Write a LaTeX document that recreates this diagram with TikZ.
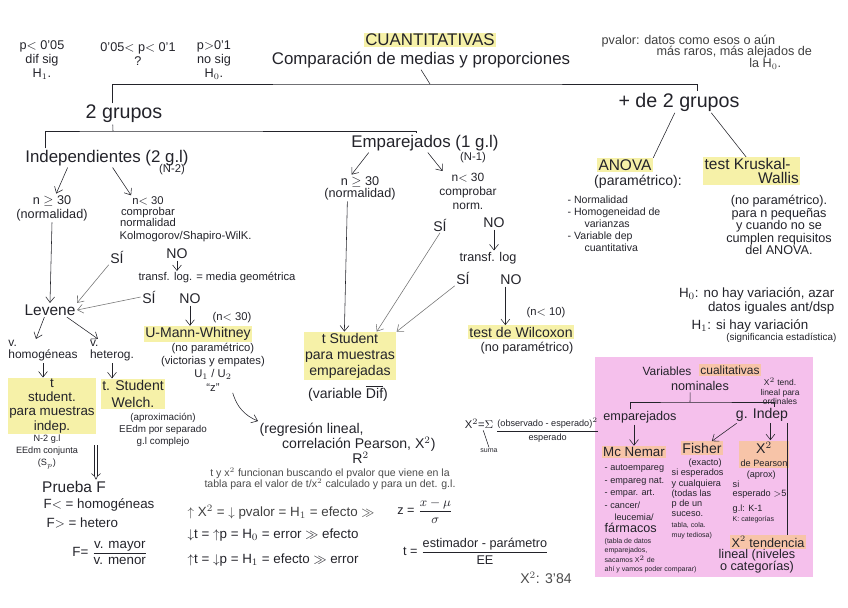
\documentclass[tikz,border=0pt]{standalone}
\usepackage{amsmath}
\usepackage{fontspec}
\setmainfont{Liberation Sans}
\usepackage{xcolor}
\usepackage{tikz}
\usetikzlibrary{arrows.meta}

\definecolor{ink}{RGB}{35,35,42}
\definecolor{hlyellow}{RGB}{246,241,168}
\definecolor{hlorange}{RGB}{247,196,168}
\definecolor{pinkbg}{RGB}{245,192,236}

\begin{document}
\begin{tikzpicture}[x=0.025cm, y=-0.025cm,
    every node/.style={text=ink, inner sep=1pt, align=center},
    sz5/.style={font=\fontsize{5}{6.2}\selectfont},
    sz6/.style={font=\fontsize{6}{6.5}\selectfont},
    sz65/.style={font=\fontsize{6.5}{7.3}\selectfont},
    sz7/.style={font=\fontsize{7}{8.5}\selectfont},
    sz75/.style={font=\fontsize{7.5}{8.5}\selectfont},
    sz8/.style={font=\fontsize{8}{9.5}\selectfont},
    sz85/.style={font=\fontsize{8.5}{10}\selectfont},
    sz9/.style={font=\fontsize{9}{10}\selectfont},
    sz95/.style={font=\fontsize{9.5}{10}\selectfont},
    sz10/.style={font=\fontsize{10}{11.5}\selectfont},
    sz11/.style={font=\fontsize{11}{12}\selectfont},
    sz12/.style={font=\fontsize{12}{13}\selectfont},
    sz14/.style={font=\fontsize{14}{15}\selectfont},
    hl/.style={fill=hlyellow},
    hlo/.style={fill=hlorange},
    arrow/.style={-{Straight Barb[length=1.4mm,width=2.2mm]},thin,draw=ink},
    garrow/.style={arrow,draw=black!55},
    dbl/.style={double,double distance=2pt,-{Implies},thin,draw=ink},
    link/.style={thin,draw=ink}
  ]
    \useasboundingbox (0,0) rectangle (848,607);
    \fill[pinkbg] (595,357) rectangle (813,577);
    % top
    \node[sz9] (psig) at (42,60) {p$<$ 0'05\\dif sig\\H$_1$.};
    \node[sz9] (pdud) at (138,54) {0'05$<$ p$<$ 0'1\\?};
    \node[sz9] (pnosig) at (214,60) {p$>$0'1\\no sig\\H$_0$.};
    \node[sz12,hl] (cuant) at (430,40) {CUANTITATIVAS};
    \node[sz12] (comp) at (421,60) {Comparación de medias y proporciones};
    \node[sz9,font=\fontsize{9}{8.5}\selectfont,align=left,anchor=west,text=black!75] (pvalor) at (600,52)
      {pvalor: datos como esos o aún\\\hspace*{39pt}más raros, más alejados de\\\hspace*{105pt}la H$_0$.};
    \node[sz14] (grupos2) at (124,114) {2 grupos};
    \node[sz14] (masgrupos) at (679,102) {+ de 2 grupos};
    \coordinate (split1) at (430,84);
    \draw[link] ([xshift=-8pt]grupos2.north) |- (split1) -| ([xshift=13pt]masgrupos.north);
    \draw[link] (split1) -- (comp.south);
    \node[sz12] (indep) at (107,158) {Independientes (2 g.l)};
    \node[sz8] (indepn) at (172,170) {(N-2)};
    \node[sz12] (empar) at (425,143) {Emparejados (1 g.l)};
    \node[sz8] (emparn) at (473,158) {(N-1)};
    \coordinate (split2) at (113,131);
    \draw[link] ([xshift=-44pt]indep.north) |- (split2) -| ([xshift=-6pt]empar.north);
    \draw[link] (split2) -- ([xshift=-8pt]grupos2.south);
    % independientes
    \node[sz9] (ngeq1) at (52,208) {n $\geq$ 30\\(normalidad)};
    \node[sz8,font=\fontsize{8}{7.8}\selectfont] (nlt1) at (148,212) {n$<$ 30\\comprobar\\normalidad};
    \node[sz8,anchor=west] (kolmo) at (118,237) {Kolmogorov/Shapiro-WilK.};
    \node[sz10] (si1) at (117,257) {SÍ};
    \node[sz10] (no1) at (177,254) {NO};
    \node[sz8] (transf1) at (217,278) {transf. log. = media geométrica};
    \node[sz10] (si2) at (149,297) {SÍ};
    \node[sz10] (no2) at (190,299) {NO};
    \node[sz11] (levene) at (50,310) {Levene};
    \node[sz8] (nlt30) at (232,318) {(n$<$ 30)};
    \node[sz10,hl] (umann) at (198,334) {U-Mann-Whitney};
    \node[sz8] (umanndesc) at (213,367) {(no paramétrico)\\(victorias y empates)\\U$_1$ / U$_2$\\``z''};
    \node[sz10,font=\fontsize{10}{10.7}\selectfont,align=left,anchor=west] (regres) at (258,443)
      {(regresión lineal,\\\hspace*{16pt}correlación Pearson, X$^2$)\\\hspace*{66pt}R$^2$};
    \draw[arrow] ([xshift=-28pt]indep.south) -- ([xshift=3pt]ngeq1.north);
    \draw[arrow] ([xshift=4pt]indep.south) -- ([xshift=-12pt]nlt1.north);
    \draw[arrow] (ngeq1.south) -- (levene.north);
    \draw[garrow] (si1.south west) -- (levene.north east);
    \draw[arrow] (no1.south) -- (no1.south |- transf1.north);
    \draw[garrow] (si2.west) -- (levene.east);
    \draw[arrow] (no2.south) -- (no2.south |- umann.north);
    \draw[arrow] ([xshift=14pt]umanndesc.south) to[bend right=25] (regres.north west);
    % levene
    \node[sz85,font=\fontsize{8.5}{8.5}\selectfont,align=left] (vhom) at (43,351) {v.\\homogéneas};
    \node[sz85,font=\fontsize{8.5}{8.5}\selectfont,align=left] (vhet) at (112,351) {v.\\heterog.};
    \draw[arrow] ([xshift=-4pt]levene.south) -- ([xshift=-5pt]vhom.north);
    \draw[arrow] ([xshift=12pt]levene.south) -- ([xshift=-10pt]vhet.north);
    \node[sz95,hl] (tindep) at (52,406) {t\\student.\\para muestras\\indep.};
    \node[sz10,font=\fontsize{10}{12.5}\selectfont,hl] (welch) at (133,394) {t. Student\\Welch.};
    \draw[arrow] (vhom.south) -- (vhom.south |- tindep.north);
    \draw[arrow] (vhet.south) -- (vhet.south |- welch.north);
    \node[sz65,font=\fontsize{6.5}{8.5}\selectfont] (tindepinfo) at (47,452) {N-2 g.l\\EEdm conjunta\\(S$_p$)};
    \node[sz7] (welchinfo) at (163,430) {(aproximación)\\EEdm por separado\\g.l complejo};
    \coordinate (dbltop) at (96,445);
    \node[sz11] (pruebaf) at (74,487) {Prueba F};
    \draw[dbl] (dbltop) -- (dbltop |- pruebaf.north);
    \node[sz95,anchor=west] (fhom) at (42,505) {F$<$ = homogéneas};
    \node[sz95,anchor=west] (fhet) at (45,523) {F$>$ = hetero};
    \node[sz95] (fratio) at (110,553) {F= $\dfrac{\text{v. mayor}}{\text{v. menor}}$};
    % notas
    \node[sz75,font=\fontsize{7.5}{8}\selectfont,text=black!70] (note) at (330,479)
      {t y x$^2$ funcionan buscando el pvalor que viene en la\\tabla para el valor de t/x$^2$ calculado y para un det. g.l.};
    \node[sz95,anchor=west,text=black!75] (eqchi) at (186,512) {$\uparrow$ X$^2$ = $\downarrow$ pvalor = H$_1$ = efecto $\gg$};
    \node[sz95,anchor=west] (eqerr) at (186,535) {$\downarrow$t = $\uparrow$p = H$_0$ = error $\gg$ efecto};
    \node[sz95,anchor=west] (eqefe) at (186,560) {$\uparrow$t = $\downarrow$p = H$_1$ = efecto $\gg$ error};
    \node[sz9] (zform) at (425,511) {z = $\dfrac{x - \mu}{\sigma}$};
    \node[sz9] (tform) at (476,551) {t = $\dfrac{\text{estimador - parámetro}}{\text{EE}}$};
    \node[sz8,anchor=east] (chisum) at (495,424) {X$^2$=$\Sigma$};
    \node[sz65,anchor=west] (chifrac) at (494,430) {$\dfrac{\text{(observado - esperado)}^2}{\text{esperado}}$};
    \node[sz5] (suma) at (489,451) {suma};
    \draw[link] ([xshift=3pt]chisum.south) -- (suma.north);
    \node[sz10,text=black!70] (chival) at (546,578) {X$^2$: 3'84};
    % emparejados
    \node[sz9,font=\fontsize{9}{8.5}\selectfont] (ngeq2) at (360,188) {n $\geq$ 30\\(normalidad)};
    \node[sz85] (nlt2) at (468,191) {n$<$ 30\\comprobar\\norm.};
    \node[sz10] (si3) at (440,225) {SÍ};
    \node[sz10] (no3) at (494,223) {NO};
    \node[sz9] (transf2) at (488,258) {transf. log};
    \node[sz10] (si4) at (463,278) {SÍ};
    \node[sz10] (no4) at (511,280) {NO};
    \node[sz8] (nlt10) at (546,313) {(n$<$ 10)};
    \node[sz10,hl] (wilcox) at (521,332) {test de Wilcoxon};
    \node[sz9] (wilcoxdesc) at (527,348) {(no paramétrico)};
    \node[sz10,hl] (tstud2) at (350,356) {t Student\\para muestras\\emparejadas};
    \node[sz10] (vardif) at (348,393) {(variable $\overline{\text{Dif}}$)};
    \draw[arrow] ([xshift=-40pt]empar.south) -- ([xshift=-6pt]ngeq2.north);
    \draw[arrow] ([xshift=2pt]empar.south) -- ([xshift=-18pt]nlt2.north);
    \draw[arrow] ([xshift=-9pt]ngeq2.south) -- ([xshift=-4pt]tstud2.north);
    \draw[garrow] (si3.south) -- ([xshift=19pt]tstud2.north);
    \draw[arrow] (no3.south) -- (no3.south |- transf2.north);
    \draw[garrow] (si4.south west) -- (tstud2.north east);
    \draw[arrow] ([xshift=-4pt]no4.south) -- ([xshift=-4pt]no4.south |- wilcox.north);
    % mas de 2 grupos
    \node[sz11,hl] (anova) at (625,165) {ANOVA};
    \node[sz10] (anovapar) at (638,182) {(paramétrico):};
    \node[sz75,align=left,anchor=west] (anovalist) at (566,224)
      {- Normalidad\\- Homogeneidad de\\\hspace*{12pt}varianzas\\- Variable dep\\\hspace*{12pt}cuantitativa};
    \node[sz11,font=\fontsize{11}{9.5}\selectfont,hl,align=left,anchor=west] (kruskal) at (703,171)
      {test Kruskal-\\\hspace*{38pt}Wallis};
    \node[sz9,font=\fontsize{9}{8.9}\selectfont] (kruskaldesc) at (779,225)
      {(no paramétrico).\\para n pequeñas\\y cuando no se\\cumplen requisitos\\del ANOVA.};
    \draw[link] ([xshift=-3pt]masgrupos.south) -- (anova.north east);
    \draw[link] ([xshift=23pt]masgrupos.south) -- ([xshift=-4pt]kruskal.north);
    \node[sz95,align=right,anchor=east] (hcero) at (836,301) {H$_0$: no hay variación, azar\\datos iguales ant/dsp};
    \node[sz95,font=\fontsize{9.5}{8}\selectfont,align=right,anchor=east] (huno) at (838,331)
      {H$_1$: si hay variación\hspace*{20pt}\\{\fontsize{7}{8}\selectfont(significancia estadística)}};
    % cualitativas
    \node[sz85] (varlab) at (667,371) {Variables};
    \node[sz85,hlo] (cualit) at (730,370) {cualitativas};
    \node[sz9] (nomin) at (700,386) {nominales};
    \node[sz6] (x2tend) at (780,391) {X$^2$ tend.\\lineal para\\ordinales};
    \node[sz9] (emparpink) at (640,417) {emparejados};
    \node[sz10] (gindep) at (762,415) {g. Indep};
    \coordinate (split3) at (690,402);
    \draw[link] ([xshift=-7pt]emparpink.north) |- (split3) -| ([xshift=9pt]gindep.north);
    \draw[link] (split3) -- ([xshift=-7pt]nomin.south);
    \node[sz95,hlo] (mcnemar) at (634,452) {Mc Nemar};
    \node[sz65,font=\fontsize{6.5}{8.8}\selectfont,align=left,anchor=west] (mclist) at (603,499)
      {- autoempareg\\- empareg nat.\\- empar. art.\\- cancer/\\\hspace*{7pt}leucemia/\\{\fontsize{9}{9}\selectfont fármacos}};
    \node[sz5,align=left,anchor=west] (mctabla) at (603,556)
      {(tabla de datos\\emparejados,\\sacamos X$^2$ de\\ahí y vamos poder comparar)};
    \node[sz10,hlo] (fisher) at (702,448) {Fisher};
    \node[sz65,align=left,anchor=west] (fisherdesc) at (670,499)
      {\hspace*{12pt}(exacto)\\si esperados\\y cualquiera\\(todas las\\p de un\\suceso.\\{\fontsize{5}{5}\selectfont tabla, cola.}\\{\fontsize{5}{5}\selectfont muy tediosa)}};
    \node[sz65,font=\fontsize{6.5}{9}\selectfont,hlo] (xpear) at (764,454) {{\fontsize{10}{10}\selectfont X$^2$}\\de Pearson};
    \node[sz65,font=\fontsize{6.5}{6.8}\selectfont,align=left,anchor=west] (xpeardesc) at (731,497)
      {\hspace*{10pt}(aprox)\\si\\esperado $>$5\\[4pt]g.l: K-1\\{\fontsize{5}{5}\selectfont K: categorías}};
    \node[sz9,hlo] (xtendhl) at (768,542) {X$^2$ tendencia};
    \node[sz9,font=\fontsize{9}{8.5}\selectfont] (xtendrest) at (757,561) {lineal (niveles\\o categorías)};
    \draw[arrow] (mcnemar.north |- emparpink.south) -- (mcnemar.north);
    \draw[arrow] ([xshift=-18pt]gindep.south) -- ([xshift=7pt]fisher.north);
    \draw[arrow] ([xshift=6pt]gindep.south) -- ([xshift=6pt]gindep.south |- xpear.north);
    \draw[link] ([xshift=18pt]gindep.south) -- ([xshift=18pt]gindep.south |- xtendhl.north);
\end{tikzpicture}
\end{document}
